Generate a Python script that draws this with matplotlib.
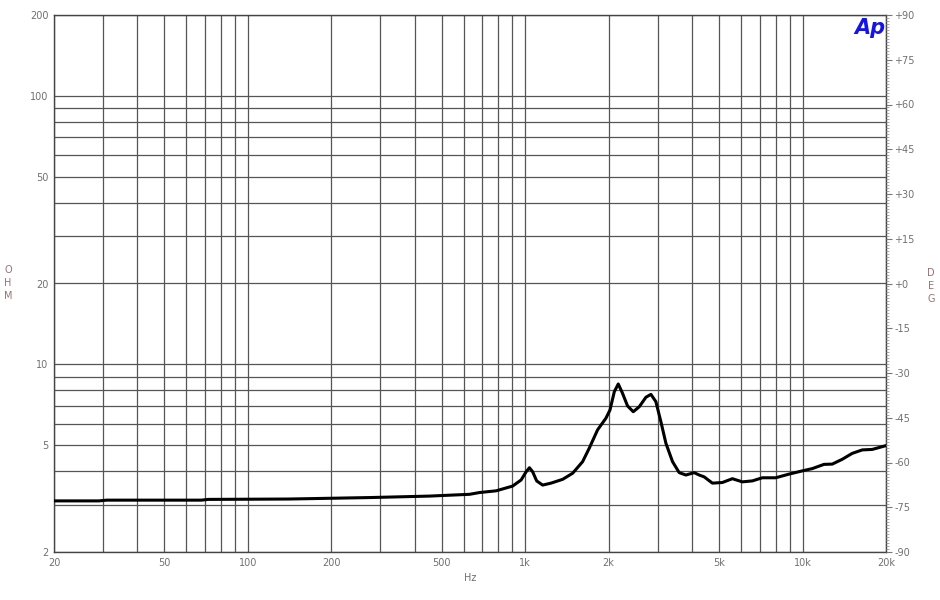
import numpy as np
import matplotlib.pyplot as plt
from matplotlib.ticker import FixedLocator, LogLocator, MultipleLocator, NullFormatter

# Impedance curve (Hz, ohm)
freq = [20, 29, 31, 68, 72, 140, 275, 450, 630,
        684, 786, 901, 967, 1008, 1036, 1064, 1100, 1156, 1239, 1365, 1483,
        1611, 1702, 1824, 1955, 2022, 2096, 2166, 2244, 2339, 2453, 2578,
        2725, 2840, 2960, 3086, 3217, 3399, 3592, 3797, 4068, 4240, 4418,
        4733, 5142, 5586, 6069, 6593, 7163, 8004, 8937, 9982, 10850, 11950,
        12800, 13910, 15110, 16420, 17840, 20000]
ohm = [3.10, 3.10, 3.12, 3.12, 3.14, 3.15, 3.19, 3.23, 3.28,
       3.33, 3.38, 3.52, 3.71, 3.98, 4.12, 3.98, 3.68, 3.55, 3.61, 3.73, 3.93,
       4.34, 4.87, 5.70, 6.30, 6.76, 7.91, 8.45, 7.80, 7.00, 6.66, 6.95,
       7.54, 7.73, 7.26, 6.11, 5.08, 4.34, 3.95, 3.87, 3.95, 3.87, 3.81,
       3.61, 3.63, 3.75, 3.65, 3.68, 3.78, 3.78, 3.90, 4.01, 4.09, 4.24,
       4.25, 4.43, 4.66, 4.80, 4.82, 4.98]

# Tick labels
x_ticks = [20, 50, 100, 200, 500, 1000, 2000, 5000, 10000, 20000]
x_labels = ['20', '50', '100', '200', '500', '1k', '2k', '5k', '10k', '20k']
y_ticks = [2, 5, 10, 20, 50, 100, 200]
deg_ticks = list(range(-90, 91, 15))

label_col = '#707070'
grid_col = '#555555'

fig = plt.figure(figsize=(9.4, 6.0), dpi=100)
ax = fig.add_axes([54 / 940, 48 / 600, 832 / 940, 537 / 600])
ax.set_xscale('log')
ax.set_yscale('log')
ax.set_xlim(20, 20000)
ax.set_ylim(2, 200)

# Grelha logaritmica completa
ax.xaxis.set_major_locator(FixedLocator(x_ticks))
ax.xaxis.set_minor_locator(LogLocator(base=10, subs=np.arange(1, 10)))
ax.xaxis.set_minor_formatter(NullFormatter())
ax.set_xticklabels(x_labels)
ax.yaxis.set_major_locator(FixedLocator(y_ticks))
ax.yaxis.set_minor_locator(LogLocator(base=10, subs=np.arange(1, 10)))
ax.yaxis.set_minor_formatter(NullFormatter())
ax.set_yticklabels([str(v) for v in y_ticks])
ax.grid(which='both', color=grid_col, lw=0.9)
ax.tick_params(which='both', length=0, labelsize=7, labelcolor=label_col, pad=4)
for s in ax.spines.values():
    s.set_color('#444444')
    s.set_linewidth(1)

# Curva de impedancia
ax.plot(freq, ohm, color='black', lw=2.2, solid_joinstyle='round', zorder=5)

# Eixo da fase (direita)
ax2 = ax.twinx()
ax2.set_ylim(-90, 90)
ax2.set_yticks(deg_ticks)
ax2.set_yticklabels([('+%d' % d) if d >= 0 else str(d) for d in deg_ticks])
ax2.yaxis.set_minor_locator(MultipleLocator(1))
ax2.tick_params(which='major', direction='out', length=4, color='#777777',
                labelsize=7, labelcolor=label_col, pad=2)
ax2.tick_params(which='minor', direction='out', length=2.5, color='#999999')
for s in ax2.spines.values():
    s.set_visible(False)

# Textos
fig.text(8 / 940, 1 - 283 / 600, 'O\nH\nM', fontsize=7, color='#9a7272',
         ha='center', va='center', linespacing=1.35)
fig.text(931 / 940, 1 - 286 / 600, 'D\nE\nG', fontsize=7, color='#9a7272',
         ha='center', va='center', linespacing=1.35)
fig.text(470 / 940, 1 - 578 / 600, 'Hz', fontsize=7, color=label_col,
         ha='center', va='center')
fig.text(870 / 940, 1 - 28 / 600, 'Ap', fontsize=15, color='#1414e6',
         fontweight='bold', style='italic', ha='center', va='center')

fig.savefig('out.png', dpi=100)
